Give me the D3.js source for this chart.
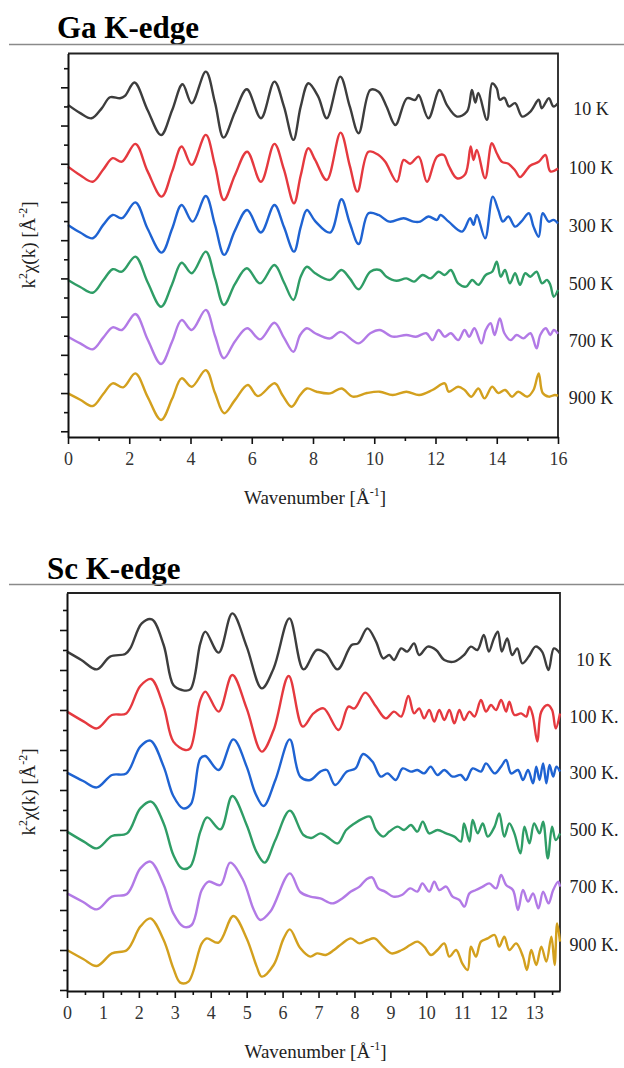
<!DOCTYPE html>
<html>
<head>
<meta charset="utf-8"/>
<title>EXAFS k2 chi(k)</title>
<style>
    body { margin: 0; background: #fff; }
    svg { display: block; }
    text { font-family: 'Liberation Serif', 'Times New Roman', serif; }
    .domain { stroke: #111; stroke-width: 2px; }
    .tick line { stroke: #111; stroke-width: 1.6px; }
    .curve { fill: none; stroke-width: 2.4px; stroke-linejoin: round; }
</style>
<script src="https://cdnjs.cloudflare.com/ajax/libs/d3/7.8.5/d3.min.js"></script>
</head>
<body>
<svg id="chart" width="624" height="1068"></svg>
<script>
// ---- data ----
const tempLabels = ['10 K', '100 K', '300 K', '500 K', '700 K', '900 K'];
const scLabels = ['10 K', '100 K.', '300 K.', '500 K.', '700 K.', '900 K.'];
const offsets = [15, 12, 9, 6, 3, 0];
const colors = ['#3d3d3d', '#e5393f', '#1f63d2', '#2f9d66', '#b27ae6', '#d3a01e'];
const gaTicks = [0, 2, 4, 6, 8, 10, 12, 14, 16];
const scTicks = [0, 1, 2, 3, 4, 5, 6, 7, 8, 9, 10, 11, 12, 13];

// Ga K-edge, [k, k2chi] pairs
const ga10K = [[0,0.08],[0.4,-0.35],[0.77,-0.62],[1.1,-0.1],[1.37,0.48],[1.7,0.43],[1.86,0.55],[2.17,1.25],[2.6,-0.2],[3.04,-1.5],[3.4,-0.2],[3.74,1.16],[4.04,0.17],[4.5,1.82],[4.8,0.2],[5.08,-1.63],[5.45,-0.3],[5.84,0.9],[6.3,-0.62],[6.74,1.3],[7.05,0.0],[7.36,-1.75],[7.6,0.0],[7.85,1.21],[8.17,0.51],[8.45,-0.62],[8.89,1.56],[9.2,0.0],[9.49,-1.4],[9.87,0.86],[10.14,0.77],[10.4,0.0],[10.69,-0.97],[11.07,0.43],[11.34,0.34],[11.45,0.6],[11.77,-0.62],[12.13,0.86],[12.37,0.08],[12.7,-0.53],[13.03,-0.27],[13.19,0.86],[13.3,0.2],[13.4,0.7],[13.68,-0.7],[13.85,1.2],[14.0,0.95],[14.1,0.35],[14.25,0.45],[14.4,0.0],[14.6,0.17],[14.83,-0.53],[15.1,-0.27],[15.37,0.35],[15.47,-0.1],[15.7,0.43],[15.85,0.0],[16,0.17]];
const ga100K = [[0,-0.15],[0.4,-0.6],[0.81,-0.94],[1.15,-0.3],[1.46,0.29],[1.76,0.11],[2.2,1.04],[2.6,-0.4],[3.06,-1.72],[3.4,-0.4],[3.71,0.9],[4.04,-0.06],[4.5,1.51],[4.8,-0.1],[5.09,-1.9],[5.45,-0.6],[5.85,0.63],[6.3,-0.94],[6.74,1.04],[7.05,-0.3],[7.38,-2.07],[7.6,-0.6],[7.85,0.81],[8.07,0.2],[8.45,-0.85],[8.9,1.63],[9.2,-0.1],[9.45,-1.46],[9.81,0.63],[10.14,0.46],[10.36,0.1],[10.74,-0.94],[10.96,0.2],[11.17,0.0],[11.45,0.37],[11.72,-0.94],[12.05,0.37],[12.27,0.46],[12.43,-0.1],[12.7,-0.76],[12.97,-0.55],[13.15,0.9],[13.24,0.2],[13.35,0.72],[13.62,-0.76],[13.84,1.07],[14.0,0.55],[14.17,0.1],[14.38,0.0],[14.6,-0.35],[14.76,-0.7],[15.09,-0.1],[15.37,0.1],[15.59,0.46],[15.75,-0.4],[16,-0.25]];
const ga300K = [[0,-0.2],[0.4,-0.6],[0.81,-0.9],[1.15,-0.2],[1.46,0.32],[1.76,0.15],[2.2,0.98],[2.6,-0.4],[3.06,-1.65],[3.4,-0.4],[3.71,0.84],[4.07,-0.03],[4.5,1.31],[4.8,-0.2],[5.1,-1.77],[5.45,-0.5],[5.85,0.58],[6.3,-0.6],[6.74,0.84],[7.05,-0.3],[7.38,-1.6],[7.6,-0.3],[7.8,0.58],[8.07,0.0],[8.56,-0.6],[8.93,1.14],[9.2,-0.1],[9.49,-1.2],[9.81,0.41],[10.14,0.32],[10.5,-0.03],[10.96,0.15],[11.28,-0.03],[11.5,-0.03],[11.77,0.24],[12.05,0.06],[12.16,0.32],[12.43,-0.03],[12.87,-0.55],[13.13,0.15],[13.24,-0.2],[13.35,0.32],[13.62,-0.9],[13.87,1.28],[14.05,0.58],[14.2,-0.03],[14.38,0.24],[14.6,-0.29],[14.8,-0.03],[15.05,0.41],[15.2,-0.29],[15.37,-0.82],[15.5,0.41],[15.7,-0.03],[15.85,0.06],[16,-0.12]];
const ga500K = [[0,-0.08],[0.4,-0.45],[0.81,-0.75],[1.15,-0.1],[1.46,0.48],[1.76,0.35],[2.2,1.14],[2.6,-0.2],[3.04,-1.48],[3.4,-0.3],[3.71,0.82],[4.04,0.27],[4.5,1.4],[4.8,0.0],[5.09,-1.39],[5.45,-0.3],[5.84,0.53],[6.27,-0.26],[6.74,0.7],[7.05,-0.2],[7.36,-1.13],[7.6,0.1],[7.8,0.61],[8.07,0.27],[8.56,-0.08],[8.93,0.44],[9.2,0.0],[9.49,-0.57],[9.87,0.35],[10.18,0.44],[10.4,0.09],[10.72,-0.12],[11.05,0.0],[11.3,-0.17],[11.58,0.18],[11.84,0.0],[12.1,0.35],[12.3,0.18],[12.5,0.44],[12.74,-0.26],[13.0,-0.43],[13.2,-0.08],[13.4,-0.34],[13.64,0.18],[13.85,0.35],[14.0,0.87],[14.13,0.09],[14.27,0.44],[14.43,-0.26],[14.6,0.27],[14.76,-0.34],[14.93,0.27],[15.1,0.09],[15.3,0.35],[15.48,-0.26],[15.64,-0.08],[15.75,-0.34],[15.86,-0.96],[16,-0.6]];
const ga700K = [[0,-0.05],[0.4,-0.4],[0.81,-0.71],[1.15,-0.1],[1.46,0.44],[1.76,0.3],[2.2,1.14],[2.6,-0.2],[3.04,-1.48],[3.4,-0.3],[3.71,0.82],[4.04,0.3],[4.5,1.35],[4.8,0.0],[5.09,-1.18],[5.45,-0.3],[5.85,0.39],[6.27,-0.19],[6.74,0.68],[7.05,-0.1],[7.36,-0.84],[7.58,0.04],[7.8,0.39],[8.07,0.13],[8.56,-0.14],[8.9,0.2],[9.49,-0.4],[9.87,0.13],[10.18,0.3],[10.6,-0.05],[11.05,0.04],[11.36,-0.05],[11.7,0.13],[11.9,-0.23],[12.1,0.3],[12.3,-0.05],[12.5,0.13],[12.74,-0.23],[12.95,0.3],[13.1,-0.05],[13.27,0.39],[13.5,-0.4],[13.64,0.3],[13.8,0.65],[13.93,0.04],[14.1,0.91],[14.25,0.13],[14.45,-0.23],[14.65,0.04],[14.87,-0.14],[15.1,0.13],[15.3,-0.66],[15.42,0.04],[15.6,0.39],[15.75,0.04],[15.86,0.3],[16,0.1]];
const ga900K = [[0,-0.02],[0.4,-0.35],[0.81,-0.68],[1.15,-0.05],[1.46,0.51],[1.8,0.3],[2.2,1.03],[2.6,-0.2],[3.04,-1.41],[3.4,-0.3],[3.71,0.77],[4.04,0.33],[4.5,1.2],[4.8,0.0],[5.1,-1.06],[5.45,-0.37],[5.87,0.42],[6.2,-0.16],[6.75,0.51],[7.0,-0.1],[7.3,-0.72],[7.58,-0.1],[7.8,0.24],[8.12,0.07],[8.56,-0.02],[8.93,0.24],[9.3,-0.19],[9.76,0.0],[10.18,0.07],[10.6,-0.1],[11.05,0.07],[11.47,-0.1],[11.9,0.16],[12.3,0.51],[12.43,0.07],[12.74,0.33],[12.95,0.16],[13.17,-0.19],[13.4,0.24],[13.6,-0.28],[13.85,0.33],[14.05,0.0],[14.27,0.16],[14.5,-0.19],[14.7,0.07],[15.0,-0.19],[15.2,0.16],[15.37,1.03],[15.5,0.0],[15.7,-0.19],[15.9,-0.1],[16,-0.15]];

// Sc K-edge, [k, k2chi] pairs
const sc10K = [[0,-0.08],[0.4,-0.5],[0.83,-0.97],[1.2,-0.33],[1.62,-0.2],[1.76,0.08],[2.08,1.33],[2.36,1.53],[2.69,0.25],[2.96,-1.75],[3.2,-2.0],[3.43,-1.97],[3.71,0.33],[3.85,0.92],[4.22,-0.13],[4.6,1.83],[5.0,0.17],[5.42,-1.92],[5.75,-0.92],[6.19,1.58],[6.58,-0.97],[6.95,0.0],[7.2,-0.17],[7.53,-0.97],[7.92,0.25],[8.1,0.33],[8.36,1.08],[8.6,0.42],[8.8,-0.42],[8.97,-0.25],[9.1,-0.5],[9.3,0.08],[9.47,-0.08],[9.66,0.33],[9.8,-0.25],[10.04,0.17],[10.27,0.0],[10.5,-0.5],[10.78,-0.58],[11.05,-0.25],[11.24,0.17],[11.42,0.0],[11.6,0.75],[11.74,-0.08],[11.88,0.58],[11.99,0.92],[12.1,-0.08],[12.25,0.58],[12.39,-0.25],[12.53,0.08],[12.67,-0.67],[12.85,-0.33],[13.04,0.17],[13.22,-0.08],[13.4,-1.0],[13.55,0.08],[13.72,-0.17]];
const sc100K = [[0,-0.08],[0.47,-0.58],[0.83,-0.92],[1.25,-0.25],[1.65,-0.17],[2.04,1.2],[2.34,1.55],[2.69,0.17],[2.96,-1.58],[3.29,-2.0],[3.43,-1.92],[3.71,0.5],[3.85,0.92],[4.22,-0.08],[4.6,1.75],[5.0,0.08],[5.42,-2.08],[5.75,-1.0],[6.17,1.7],[6.56,-0.83],[6.86,-0.17],[7.14,0.08],[7.56,-1.0],[7.83,0.17],[8.0,0.08],[8.3,0.87],[8.6,0.17],[8.87,-0.42],[9.1,-0.08],[9.3,-0.33],[9.5,0.7],[9.66,-0.17],[9.8,0.08],[9.94,-0.42],[10.08,0.0],[10.22,-0.58],[10.36,0.0],[10.5,-0.5],[10.64,0.0],[10.78,-0.67],[10.92,0.0],[11.05,-0.5],[11.2,-0.08],[11.34,-0.33],[11.52,0.5],[11.66,-0.08],[11.8,0.25],[11.94,0.0],[12.08,0.5],[12.22,-0.08],[12.31,0.42],[12.45,-0.25],[12.64,-0.17],[12.78,-0.33],[12.87,0.17],[12.96,-0.25],[13.09,-1.58],[13.2,-0.08],[13.38,0.25],[13.5,0.0],[13.6,-0.92],[13.72,-0.17]];
const sc300K = [[0,-0.13],[0.45,-0.55],[0.83,-0.87],[1.25,-0.25],[1.65,-0.17],[2.04,1.17],[2.32,1.47],[2.69,0.17],[2.96,-1.3],[3.23,-1.92],[3.45,-1.7],[3.71,0.58],[3.85,0.7],[4.22,0.0],[4.63,1.53],[5.0,0.17],[5.25,-1.2],[5.47,-1.8],[5.8,-0.5],[6.2,1.53],[6.49,-0.33],[6.77,-0.5],[7.05,-0.08],[7.23,0.0],[7.46,-0.75],[7.79,-0.08],[8.03,0.08],[8.24,0.8],[8.5,0.42],[8.73,-0.33],[8.92,-0.17],[9.15,-0.5],[9.34,0.08],[9.57,-0.08],[9.75,0.0],[9.94,-0.17],[10.12,0.17],[10.31,-0.25],[10.5,0.0],[10.73,-0.33],[10.96,-0.25],[11.1,-0.5],[11.29,0.08],[11.52,-0.08],[11.66,0.33],[11.9,-0.17],[12.08,0.17],[12.22,0.5],[12.36,-0.17],[12.55,0.0],[12.69,-0.5],[12.83,0.0],[12.97,-0.67],[13.06,0.17],[13.15,-0.5],[13.25,0.33],[13.34,-0.67],[13.43,0.25],[13.53,-0.33],[13.62,0.17],[13.72,-0.08]];
const sc500K = [[0,-0.08],[0.47,-0.58],[0.83,-0.92],[1.25,-0.3],[1.67,-0.17],[2.04,1.08],[2.34,1.42],[2.69,0.33],[2.96,-1.25],[3.2,-1.92],[3.43,-1.83],[3.71,-0.08],[3.9,0.63],[4.27,0.03],[4.6,1.7],[5.0,0.25],[5.27,-1.08],[5.5,-1.63],[5.8,-0.5],[6.2,0.97],[6.58,-0.25],[6.8,-0.4],[7.05,-0.17],[7.23,-0.33],[7.53,-0.67],[7.77,0.0],[8.0,0.33],[8.24,0.58],[8.43,0.67],[8.6,0.0],[8.8,-0.33],[8.97,-0.08],[9.2,0.17],[9.38,0.0],[9.57,0.25],[9.75,-0.08],[9.9,0.42],[10.08,-0.17],[10.31,0.0],[10.55,-0.17],[10.78,-0.33],[10.96,-0.58],[11.05,0.33],[11.2,-0.58],[11.29,0.5],[11.43,-0.17],[11.57,0.33],[11.71,-0.33],[11.9,0.17],[12.03,0.83],[12.17,-0.33],[12.31,0.33],[12.45,-0.17],[12.62,-1.17],[12.73,0.17],[12.87,-0.67],[13.0,0.33],[13.15,-0.17],[13.25,0.42],[13.38,-1.42],[13.5,0.17],[13.6,-0.5],[13.72,-0.17]];
const sc700K = [[0,-0.17],[0.45,-0.6],[0.83,-0.97],[1.25,-0.33],[1.67,-0.2],[2.04,1.08],[2.32,1.42],[2.69,0.25],[2.96,-1.17],[3.24,-1.83],[3.47,-1.75],[3.75,0.0],[3.94,0.42],[4.27,0.25],[4.54,1.37],[4.9,0.5],[5.2,-1.0],[5.38,-1.5],[5.66,-1.08],[6.2,0.83],[6.49,-0.1],[6.77,-0.33],[7.05,-0.42],[7.38,-0.67],[7.66,-0.42],[7.9,-0.08],[8.14,0.17],[8.33,0.53],[8.49,0.63],[8.66,0.08],[8.85,-0.08],[9.08,-0.33],[9.32,-0.25],[9.55,0.08],[9.75,-0.08],[9.89,0.33],[10.08,-0.08],[10.22,0.42],[10.36,0.0],[10.55,0.17],[10.73,-0.33],[10.92,-0.5],[11.06,-0.83],[11.2,-0.17],[11.38,0.0],[11.57,0.17],[11.75,0.33],[11.94,0.08],[12.08,0.75],[12.22,0.25],[12.41,0.0],[12.55,-1.0],[12.69,0.0],[12.83,-0.58],[12.97,-0.17],[13.12,-0.92],[13.25,-0.08],[13.4,-0.67],[13.53,0.0],[13.67,0.42],[13.72,0.17]];
const sc900K = [[0,0.0],[0.45,-0.45],[0.83,-0.8],[1.25,-0.17],[1.67,0.0],[2.04,1.17],[2.32,1.58],[2.69,0.5],[2.96,-0.92],[3.15,-1.63],[3.38,-1.58],[3.75,0.33],[3.89,0.58],[4.22,0.37],[4.63,1.7],[5.0,0.58],[5.28,-0.83],[5.42,-1.33],[5.75,-0.75],[6.03,0.58],[6.2,1.03],[6.49,0.1],[6.77,-0.33],[6.96,-0.17],[7.2,-0.25],[7.43,0.0],[7.66,0.33],[7.9,0.58],[8.14,0.33],[8.37,0.5],[8.56,0.58],[8.8,0.17],[9.03,-0.17],[9.32,0.0],[9.55,0.25],[9.75,0.42],[9.94,0.17],[10.13,-0.25],[10.31,0.0],[10.5,0.33],[10.64,-0.33],[10.83,0.0],[11.0,-0.67],[11.15,-1.0],[11.24,0.17],[11.38,-0.33],[11.52,0.42],[11.71,0.58],[11.9,0.75],[12.03,0.17],[12.17,0.67],[12.31,0.0],[12.5,0.33],[12.69,-0.33],[12.8,-1.0],[12.92,0.0],[13.06,-0.75],[13.2,0.17],[13.34,-0.58],[13.48,0.67],[13.57,-0.75],[13.64,1.33],[13.72,0.42]];

// ---- layout ----
const FONT = "'Liberation Serif', 'Times New Roman', serif";
const svg = d3.select('#chart');

const panels = [
    {
        title: 'Ga K-edge', titleX: 57, titleY: 37.5, ruleY: 44.5,
        series: [ga10K, ga100K, ga300K, ga500K, ga700K, ga900K],
        labels: tempLabels, labelX: 591, labelY: [109, 168, 226, 284, 341, 398],
        xDomain: [0, 16], xRange: [68, 558], yDomain: [-2.3, 17.77], yRange: [437, 53.5],
        major: gaTicks, minor: d3.range(1, 16, 2), yLabelY: 245
    },
    {
        title: 'Sc K-edge', titleX: 47, titleY: 578.5, ruleY: 584.5,
        series: [sc10K, sc100K, sc300K, sc500K, sc700K, sc900K],
        labels: scLabels, labelX: 594, labelY: [660, 717, 773, 830, 887, 945],
        xDomain: [0, 13.72], xRange: [67, 560], yDomain: [-2.05, 17.85], yRange: [991, 593],
        major: scTicks, minor: d3.range(0.5, 13.6, 1), yLabelY: 792
    }
];

panels.forEach(drawPanel);

function drawPanel(p) {
    const x = d3.scaleLinear().domain(p.xDomain).range(p.xRange);
    const y = d3.scaleLinear().domain(p.yDomain).range(p.yRange);
    const [left, right] = p.xRange;
    const [bottom, top] = p.yRange;
    const g = svg.append('g');

    // title + rule
    g.append('text')
        .attr('x', p.titleX).attr('y', p.titleY)
        .attr('font-family', FONT)
        .attr('font-size', 31).attr('font-weight', 'bold').attr('fill', '#000')
        .text(p.title);
    g.append('line')
        .attr('x1', 9).attr('x2', 624).attr('y1', p.ruleY).attr('y2', p.ruleY)
        .attr('stroke', '#8a8a8a').attr('stroke-width', 1.3);

    // frame top / right
    g.append('path')
        .attr('d', `M${left},${top}H${right}V${bottom}`)
        .attr('fill', 'none').attr('stroke', '#222').attr('stroke-width', 1.8);

    // curves
    const line = d3.line()
        .curve(d3.curveCatmullRom.alpha(0.5));
    p.series.forEach((s, i) => {
        g.append('path')
            .attr('class', 'curve')
            .attr('stroke', colors[i])
            .attr('d', line.x(d => x(d[0])).y(d => y(d[1] + offsets[i]))(s));
    });

    // x axis: minor then major
    g.append('g')
        .attr('transform', `translate(0,${bottom})`)
        .call(d3.axisBottom(x).tickValues(p.minor).tickSize(4).tickFormat(''))
        .select('.domain').remove();
    const xa = g.append('g')
        .attr('transform', `translate(0,${bottom})`)
        .call(d3.axisBottom(x).tickValues(p.major).tickSize(7).tickSizeOuter(0).tickPadding(8).tickFormat(d3.format('d')));
    xa.attr('font-family', FONT).attr('font-size', 18);
    xa.selectAll('.tick text').attr('fill', '#333');

    // y axis: no labels, major on even, minor on odd
    const yMajor = d3.range(-2, 18, 2);
    const yMinor = d3.range(-1, 18, 2);
    g.append('g')
        .attr('transform', `translate(${left},0)`)
        .call(d3.axisLeft(y).tickValues(yMinor).tickSize(4).tickFormat(''))
        .select('.domain').remove();
    g.append('g')
        .attr('transform', `translate(${left},0)`)
        .call(d3.axisLeft(y).tickValues(yMajor).tickSize(7).tickSizeOuter(0).tickFormat(''));

    // curve labels
    p.labels.forEach((t, i) => {
        g.append('text')
            .attr('x', p.labelX).attr('y', p.labelY[i])
            .attr('text-anchor', 'middle').attr('dominant-baseline', 'central')
            .attr('font-family', FONT)
            .attr('font-size', 18).attr('fill', '#222')
            .text(t);
    });

    // x axis title
    const xt = g.append('text')
        .attr('x', (left + right) / 2 + 2).attr('y', bottom + 67)
        .attr('font-family', FONT)
        .attr('text-anchor', 'middle').attr('font-size', 19).attr('fill', '#222');
    xt.append('tspan').text('Wavenumber [Å');
    xt.append('tspan').attr('font-size', 12).attr('dy', -8).text('-1');
    xt.append('tspan').attr('dy', 8).text(']');

    // y axis title
    const yt = g.append('text')
        .attr('transform', `translate(35,${p.yLabelY}) rotate(-90)`)
        .attr('font-family', FONT)
        .attr('text-anchor', 'middle').attr('font-size', 19).attr('fill', '#222');
    yt.append('tspan').text('k');
    yt.append('tspan').attr('font-size', 12).attr('dy', -8).text('2');
    yt.append('tspan').attr('dy', 8).text('χ(k) [Å');
    yt.append('tspan').attr('font-size', 12).attr('dy', -8).text('-2');
    yt.append('tspan').attr('dy', 8).text(']');
}
</script>
</body>
</html>
